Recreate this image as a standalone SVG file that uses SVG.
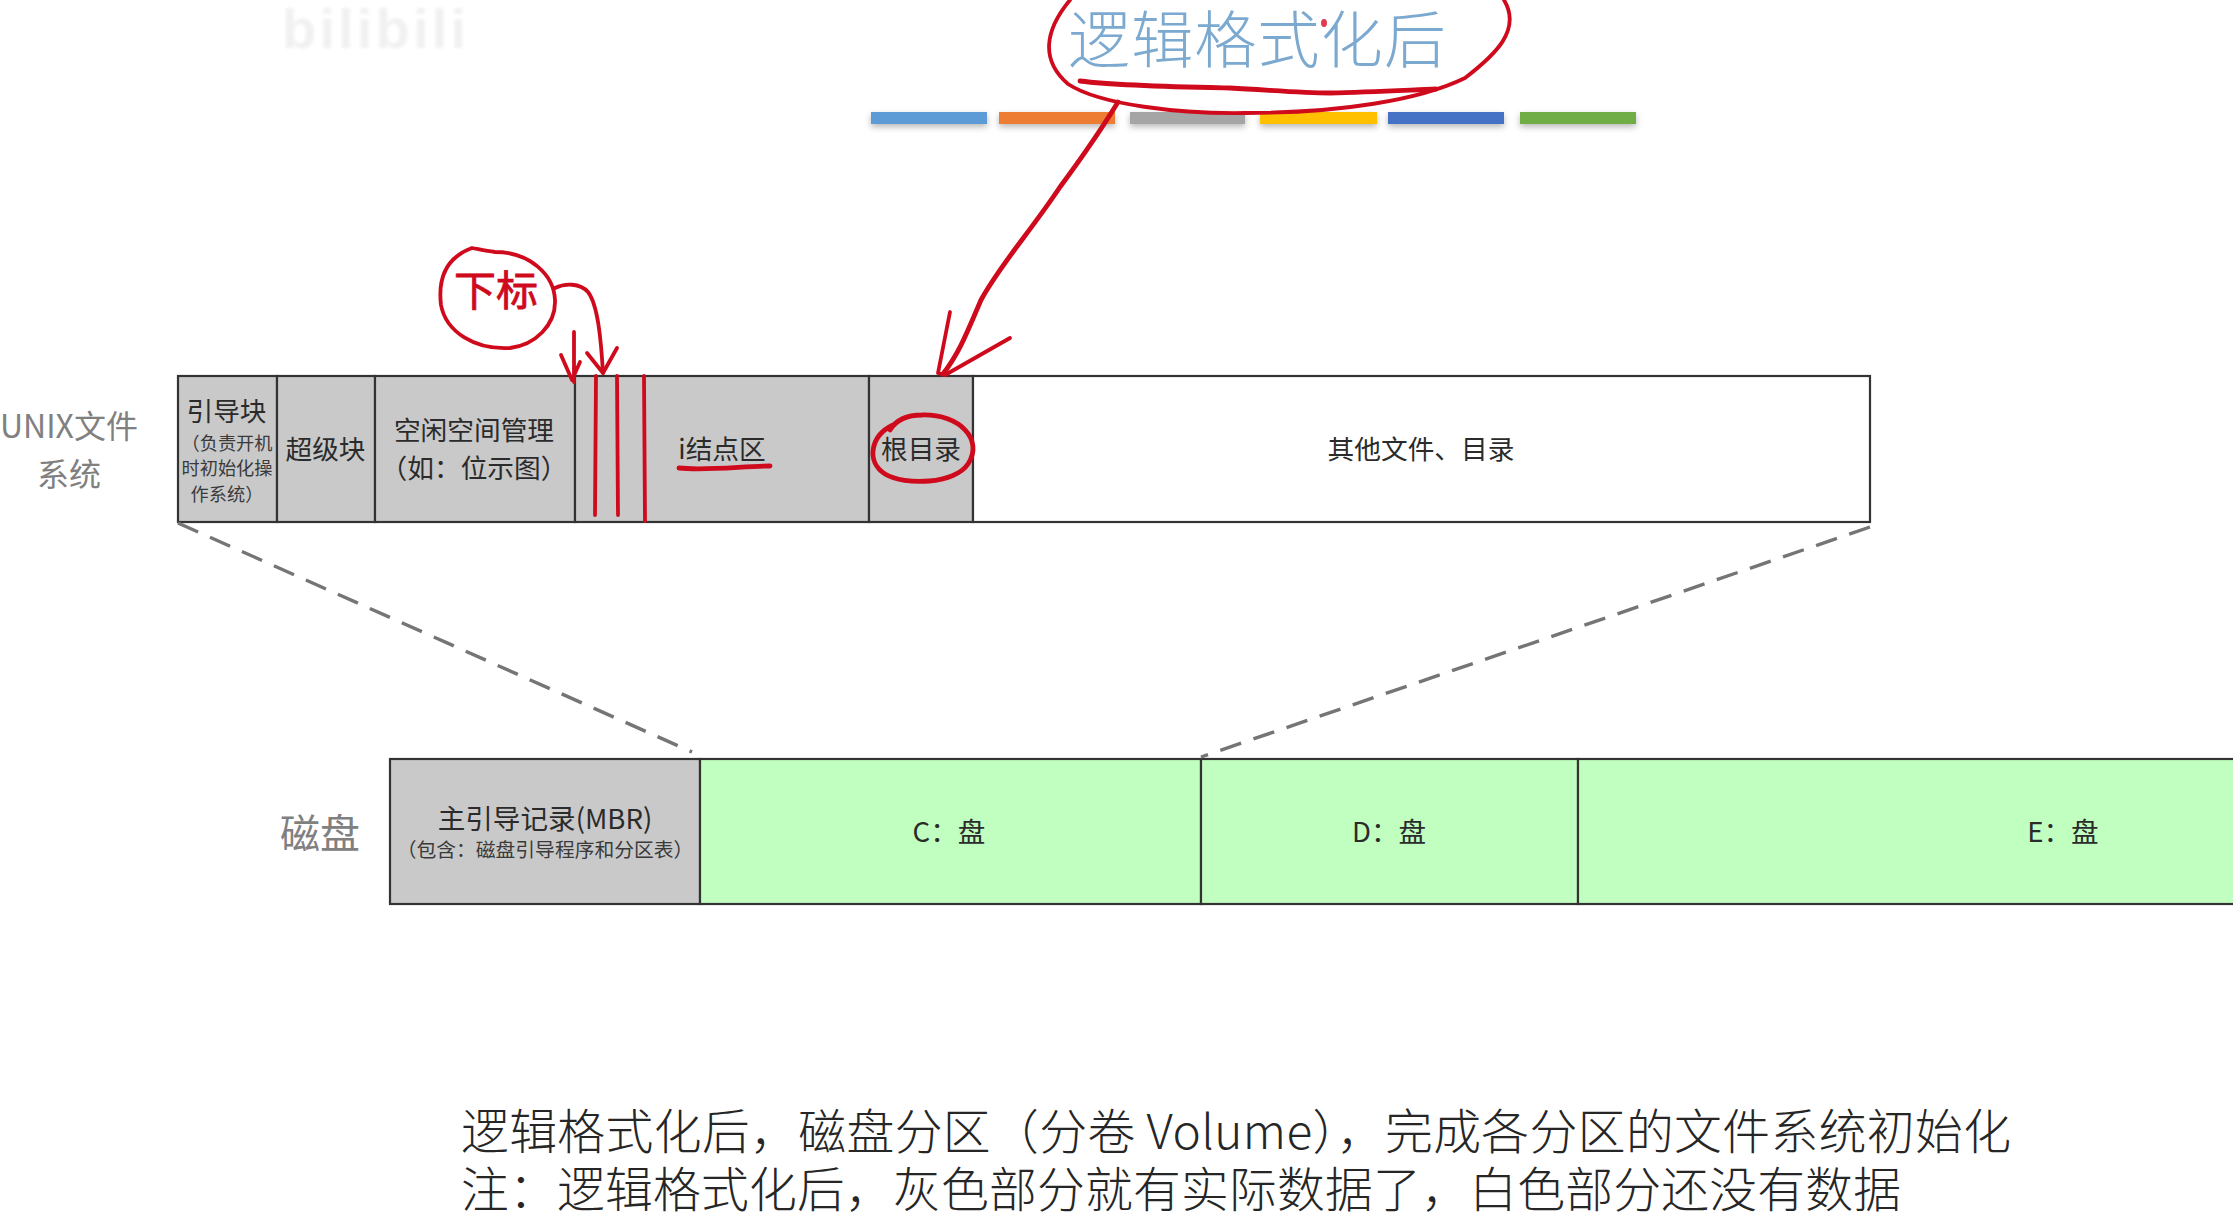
<svg xmlns="http://www.w3.org/2000/svg" width="2233" height="1219" viewBox="0 0 2233 1219">
<defs>
<filter id="sh" x="-5%" y="-40%" width="110%" height="220%"><feDropShadow dx="0" dy="3" stdDeviation="3" flood-color="#000" flood-opacity=".28"/></filter>
<filter id="soft"><feGaussianBlur stdDeviation="1.5"/></filter>
</defs>
<style>
text{font-family:"Noto Sans CJK SC","Liberation Sans",sans-serif}
.t{font-size:26.7px;fill:#2b2b2b;text-anchor:middle}
.m{font-size:27.6px}
.s{font-size:18.2px;fill:#3a3a3a;text-anchor:middle}
.g{fill:#808080;text-anchor:middle}
.box{stroke:#333;stroke-width:2.2}
.gray{fill:#c9c9c9}
.green{fill:#c1ffc1}
.ink{fill:none;stroke:#cf0a1c;stroke-width:3.8;stroke-linecap:round;stroke-linejoin:round}
.thick{stroke-width:4.8}
.dash{fill:none;stroke:#757575;stroke-width:3.4;stroke-dasharray:22 13}
.b{font-size:47.8px;fill:#262626;font-weight:300}
</style>
<rect width="2233" height="1219" fill="#fff"/>
<g id="watermark"><text x="282" y="48" font-size="56" font-weight="700" fill="#f1f1f1" filter="url(#soft)" style="font-family:'Liberation Sans',sans-serif" textLength="184">bilibili</text></g>
<g id="title">
<text x="1068" y="63" font-size="62" font-weight="300" fill="#7ba9cf" textLength="378">逻辑格式化后</text>
<ellipse cx="1324" cy="23" rx="3" ry="4" fill="#e23a4e"/>
</g>
<g id="legend" filter="url(#sh)">
<rect x="871" y="112" width="116" height="12" fill="#5b9bd5"/>
<rect x="999" y="112" width="116" height="12" fill="#ed7d31"/>
<rect x="1130" y="112" width="115" height="12" fill="#a5a5a5"/>
<rect x="1260" y="112" width="117" height="12" fill="#ffc000"/>
<rect x="1388" y="112" width="116" height="12" fill="#4472c4"/>
<rect x="1520" y="112" width="116" height="12" fill="#70ad47"/>
</g>
<g id="unix-label"><text class="g" x="69" y="438" font-size="32">UNIX文件</text><text class="g" x="69" y="486" font-size="32">系统</text></g>
<g id="boot-block"><rect class="box gray" x="178" y="376" width="99" height="146"/>
<text class="t" x="226.5" y="421">引导块</text>
<text class="s" x="227" y="450">（负责开机</text><text class="s" x="227" y="475">时初始化操</text><text class="s" x="227" y="501">作系统）</text></g>
<g id="super-block"><rect class="box gray" x="277" y="376" width="98" height="146"/><text class="t" x="325.5" y="459">超级块</text></g>
<g id="free-space"><rect class="box gray" x="375" y="376" width="200" height="146"/>
<text class="t" x="474" y="440">空闲空间管理</text><text class="t" x="474" y="478">（如：位示图）</text></g>
<g id="inode-area"><rect class="box gray" x="575" y="376" width="294" height="146"/><text class="t" x="722" y="459">i结点区</text></g>
<g id="root-dir"><rect class="box gray" x="869" y="376" width="104" height="146"/><text class="t" x="921" y="459">根目录</text></g>
<g id="other-files"><rect class="box" fill="#fff" x="973" y="376" width="897" height="146"/><text class="t" x="1421" y="459">其他文件、目录</text></g>
<g id="disk-label"><text class="g" x="320" y="848" font-size="40" fill="#8c8c8c">磁盘</text></g>
<g id="mbr"><rect class="box gray" x="390" y="759" width="310" height="145"/>
<text class="t m" x="545" y="829">主引导记录(MBR)</text><text class="s" x="545" y="857" style="font-size:19.8px">（包含：磁盘引导程序和分区表）</text></g>
<g id="disk-c"><rect class="box green" x="700" y="759" width="501" height="145"/><text class="t m" x="949" y="842">C：盘</text></g>
<g id="disk-d"><rect class="box green" x="1201" y="759" width="377" height="145"/><text class="t m" x="1389" y="842">D：盘</text></g>
<g id="disk-e"><rect class="box green" x="1578" y="759" width="660" height="145"/><text class="t m" x="2063" y="842">E：盘</text></g>
<g id="connectors">
<path class="dash" d="M178,523 L692,752"/>
<path class="dash" d="M1870,527 L1201,757"/>
</g>
<g id="annotations">
<path class="ink" d="M1070,0 C1045,30 1040,60 1068,84 C1100,105 1180,114 1245,113 C1340,113 1420,100 1465,78 C1495,55 1522,30 1504,0"/>
<path class="ink thick" d="M1080,81 C1120,86 1180,87 1230,88 C1270,90 1300,93 1330,93 C1370,92 1410,90 1436,89"/>
<path class="ink thick" d="M1118,102 C1098,135 1080,160 1060,187 C1030,232 1000,265 981,300 C968,330 960,352 943,374"/>
<path class="ink" d="M950,312 L938,373 L945,375 L1010,338"/>
<path class="ink" d="M472,248 C445,258 438,280 441,305 C446,332 475,350 510,348 C535,345 556,325 555,300 C554,275 530,252 495,252 C485,251 478,249 472,248Z"/>
<text x="454" y="306" font-size="42" fill="#cf0a1c" stroke="#cf0a1c" stroke-width=".8">下标</text>
<path class="ink" d="M555,288 C565,283 580,283 588,292 C598,305 601,340 603,373"/>
<path class="ink" d="M587,353 L603,373 L617,348"/>
<path class="ink" d="M574,332 L574,382 M561,355 L572,380 L580,362"/>
<path class="ink" d="M596,376 L595,515 M617,376 L618,515 M644,376 L645,521"/>
<path class="ink thick" d="M679,468 C705,471 745,466 770,466"/>
<path class="ink thick" d="M893,425 C870,436 866,462 885,474 C905,486 955,484 968,464 C984,440 960,414 922,415 C908,415 896,420 890,430"/>
</g>
<g id="caption">
<text class="b" x="461" y="1149" textLength="1550">逻辑格式化后，磁盘分区（分卷 Volume），完成各分区的文件系统初始化</text>
<text class="b" x="461" y="1207" textLength="1440">注：逻辑格式化后，灰色部分就有实际数据了，白色部分还没有数据</text>
</g>
</svg>
